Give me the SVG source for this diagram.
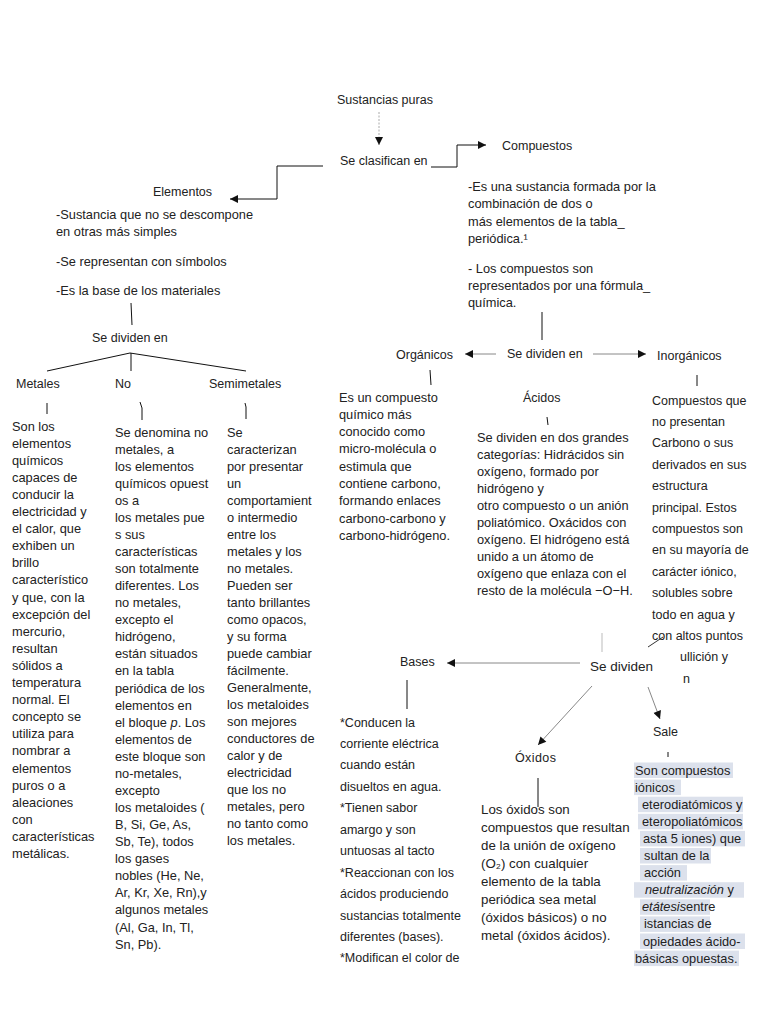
<svg xmlns="http://www.w3.org/2000/svg" width="768" height="1024" viewBox="0 0 768 1024">
<style>
.t{font-family:"Liberation Sans",Arial,sans-serif;fill:#222}
.l{font-size:12.5px}
.b{font-size:12.8px}
.h{font-size:12.5px}
.ln{stroke:#111;stroke-width:1;fill:none}
.gr{stroke:#888;stroke-width:1;fill:none}
.hl{fill:#dce1ec}
</style>
<defs>
<marker id="ah" viewBox="0 0 10 10" refX="10" refY="5" markerWidth="9" markerHeight="8" markerUnits="userSpaceOnUse" orient="auto">
<path d="M0,0 L10,5 L0,10 z" fill="#111"/>
</marker>
</defs>
<rect width="768" height="1024" fill="#fff"/>

<g id="connectors">
<line x1="379" y1="112" x2="379" y2="145" stroke="#aaa" stroke-width="1" stroke-dasharray="2,1.5" marker-end="url(#ah)"/>
<polyline class="ln" points="323,166 277,166 277,199 230,199" marker-end="url(#ah)"/>
<polyline class="ln" points="431,167 457,167 457,145 486,145" marker-end="url(#ah)"/>
<line class="ln" x1="131" y1="303" x2="132" y2="325"/>
<line class="ln" x1="130" y1="353" x2="47" y2="371"/>
<line class="ln" x1="130" y1="353" x2="246" y2="371"/>
<line class="ln" x1="131" y1="353" x2="131" y2="371"/>
<line class="ln" x1="47" y1="403" x2="47" y2="414"/>
<polyline class="ln" points="140,402 142,408 142,420"/>
<polyline class="ln" points="245,403 246,407 246,419"/>
<line class="ln" x1="542" y1="312" x2="542" y2="340"/>
<line class="gr" x1="496" y1="354" x2="465" y2="354" marker-end="url(#ah)"/>
<line class="gr" x1="593" y1="354" x2="646" y2="354" marker-end="url(#ah)"/>
<line class="ln" x1="430" y1="370" x2="431" y2="385"/>
<line class="ln" x1="697" y1="375" x2="697" y2="386"/>
<line class="ln" x1="547" y1="417" x2="548" y2="425"/>
<line x1="602" y1="633" x2="602" y2="652" stroke="#bbb" stroke-width="1"/>
<line x1="648" y1="647" x2="663" y2="637" stroke="#333" stroke-width="1"/>
<line class="gr" x1="580" y1="663" x2="447" y2="663" marker-end="url(#ah)"/>
<line class="gr" x1="592" y1="686" x2="538" y2="745" marker-end="url(#ah)"/>
<line class="gr" x1="648" y1="687" x2="660" y2="719" marker-end="url(#ah)"/>
<line class="ln" x1="407" y1="680" x2="407" y2="709"/>
<line class="ln" x1="668" y1="752" x2="668" y2="757"/>
<line class="ln" x1="538" y1="778" x2="538" y2="807"/>
</g>

<g id="sustancias"><text class="t l" x="337" y="104">Sustancias puras</text></g>
<g id="clasifican"><text class="t l" x="340" y="165">Se clasifican en</text></g>
<g id="compuestos"><text class="t l" x="502" y="149.5">Compuestos</text></g>
<g id="elementos"><text class="t l" x="153" y="196">Elementos</text></g>

<g id="elementos-desc">
<text class="t b" x="56" y="218.5">-Sustancia que no se descompone</text>
<text class="t b" x="56" y="236">en otras más simples</text>
<text class="t b" x="56" y="265.5">-Se representan con símbolos</text>
<text class="t b" x="56" y="294.5">-Es la base de los materiales</text>
</g>

<g id="compuestos-desc">
<text class="t b" x="468" y="191">-Es una sustancia formada por la</text>
<text class="t b" x="468" y="208.3">combinación de dos o</text>
<text class="t b" x="468" y="225.6">más elementos de la tabla_</text>
<text class="t b" x="468" y="242.9">periódica.¹</text>
<text class="t b" x="468" y="272.5">- Los compuestos son</text>
<text class="t b" x="468" y="289.8">representados por una fórmula_</text>
<text class="t b" x="468" y="307.1">química.</text>
</g>

<g id="se-dividen-elementos"><text class="t l" x="92" y="341.5">Se dividen en</text></g>
<g id="metales"><text class="t l" x="16" y="387.5">Metales</text></g>
<g id="no-metales"><text class="t l" x="115" y="387.5">No</text></g>
<g id="semimetales"><text class="t l" x="209" y="387.5">Semimetales</text></g>

<g id="metales-desc">
<text class="t b" x="12" y="430.5">
<tspan x="12" dy="0">Son los</tspan>
<tspan x="12" dy="17.1">elementos</tspan>
<tspan x="12" dy="17.1">químicos</tspan>
<tspan x="12" dy="17.1">capaces de</tspan>
<tspan x="12" dy="17.1">conducir la</tspan>
<tspan x="12" dy="17.1">electricidad y</tspan>
<tspan x="12" dy="17.1">el calor, que</tspan>
<tspan x="12" dy="17.1">exhiben un</tspan>
<tspan x="12" dy="17.1">brillo</tspan>
<tspan x="12" dy="17.1">característico</tspan>
<tspan x="12" dy="17.1">y que, con la</tspan>
<tspan x="12" dy="17.1">excepción del</tspan>
<tspan x="12" dy="17.1">mercurio,</tspan>
<tspan x="12" dy="17.1">resultan</tspan>
<tspan x="12" dy="17.1">sólidos a</tspan>
<tspan x="12" dy="17.1">temperatura</tspan>
<tspan x="12" dy="17.1">normal. El</tspan>
<tspan x="12" dy="17.1">concepto se</tspan>
<tspan x="12" dy="17.1">utiliza para</tspan>
<tspan x="12" dy="17.1">nombrar a</tspan>
<tspan x="12" dy="17.1">elementos</tspan>
<tspan x="12" dy="17.1">puros o a</tspan>
<tspan x="12" dy="17.1">aleaciones</tspan>
<tspan x="12" dy="17.1">con</tspan>
<tspan x="12" dy="17.1">características</tspan>
<tspan x="12" dy="17.1">metálicas.</tspan>
</text>
</g>

<g id="no-metales-desc">
<text class="t b" x="115" y="436.5">
<tspan x="115" dy="0">Se denomina no</tspan>
<tspan x="115" dy="17.07">metales, a</tspan>
<tspan x="115" dy="17.07">los elementos</tspan>
<tspan x="115" dy="17.07">químicos opuest</tspan>
<tspan x="115" dy="17.07">os a</tspan>
<tspan x="115" dy="17.07">los metales pue</tspan>
<tspan x="115" dy="17.07">s sus</tspan>
<tspan x="115" dy="17.07">características</tspan>
<tspan x="115" dy="17.07">son totalmente</tspan>
<tspan x="115" dy="17.07">diferentes. Los</tspan>
<tspan x="115" dy="17.07">no metales,</tspan>
<tspan x="115" dy="17.07">excepto el</tspan>
<tspan x="115" dy="17.07">hidrógeno,</tspan>
<tspan x="115" dy="17.07">están situados</tspan>
<tspan x="115" dy="17.07">en la tabla</tspan>
<tspan x="115" dy="17.07">periódica de los</tspan>
<tspan x="115" dy="17.07">elementos en</tspan>
<tspan x="115" dy="17.07">el bloque <tspan font-style="italic">p</tspan>. Los</tspan>
<tspan x="115" dy="17.07">elementos de</tspan>
<tspan x="115" dy="17.07">este bloque son</tspan>
<tspan x="115" dy="17.07">no-metales,</tspan>
<tspan x="115" dy="17.07">excepto</tspan>
<tspan x="115" dy="17.07">los metaloides (</tspan>
<tspan x="115" dy="17.07">B, Si, Ge, As,</tspan>
<tspan x="115" dy="17.07">Sb, Te), todos</tspan>
<tspan x="115" dy="17.07">los gases</tspan>
<tspan x="115" dy="17.07">nobles (He, Ne,</tspan>
<tspan x="115" dy="17.07">Ar, Kr, Xe, Rn),y</tspan>
<tspan x="115" dy="17.07">algunos metales</tspan>
<tspan x="115" dy="17.07">(Al, Ga, In, Tl,</tspan>
<tspan x="115" dy="17.07">Sn, Pb).</tspan>
</text>
</g>

<g id="semimetales-desc">
<text class="t b" x="227" y="436.5">
<tspan x="227" dy="0">Se</tspan>
<tspan x="227" dy="17.04">caracterizan</tspan>
<tspan x="227" dy="17.04">por presentar</tspan>
<tspan x="227" dy="17.04">un</tspan>
<tspan x="227" dy="17.04">comportamient</tspan>
<tspan x="227" dy="17.04">o intermedio</tspan>
<tspan x="227" dy="17.04">entre los</tspan>
<tspan x="227" dy="17.04">metales y los</tspan>
<tspan x="227" dy="17.04">no metales.</tspan>
<tspan x="227" dy="17.04">Pueden ser</tspan>
<tspan x="227" dy="17.04">tanto brillantes</tspan>
<tspan x="227" dy="17.04">como opacos,</tspan>
<tspan x="227" dy="17.04">y su forma</tspan>
<tspan x="227" dy="17.04">puede cambiar</tspan>
<tspan x="227" dy="17.04">fácilmente.</tspan>
<tspan x="227" dy="17.04">Generalmente,</tspan>
<tspan x="227" dy="17.04">los metaloides</tspan>
<tspan x="227" dy="17.04">son mejores</tspan>
<tspan x="227" dy="17.04">conductores de</tspan>
<tspan x="227" dy="17.04">calor y de</tspan>
<tspan x="227" dy="17.04">electricidad</tspan>
<tspan x="227" dy="17.04">que los no</tspan>
<tspan x="227" dy="17.04">metales, pero</tspan>
<tspan x="227" dy="17.04">no tanto como</tspan>
<tspan x="227" dy="17.04">los metales.</tspan>
</text>
</g>

<g id="organicos"><text class="t l" x="396" y="358.5">Orgánicos</text></g>
<g id="se-dividen-compuestos"><text class="t l" x="507" y="358">Se dividen en</text></g>
<g id="inorganicos"><text class="t l" x="657" y="359.5">Inorgánicos</text></g>

<g id="organicos-desc">
<text class="t b" x="339" y="401.5">
<tspan x="339" dy="0">Es un compuesto</tspan>
<tspan x="339" dy="17.3">químico más</tspan>
<tspan x="339" dy="17.3">conocido como</tspan>
<tspan x="339" dy="17.3">micro-molécula o</tspan>
<tspan x="339" dy="17.3">estimula que</tspan>
<tspan x="339" dy="17.3">contiene carbono,</tspan>
<tspan x="339" dy="17.3">formando enlaces</tspan>
<tspan x="339" dy="17.3">carbono-carbono y</tspan>
<tspan x="339" dy="17.3">carbono-hidrógeno.</tspan>
</text>
</g>

<g id="acidos"><text class="t l" x="523" y="401.5">Ácidos</text></g>
<g id="acidos-desc">
<text class="t b" x="477" y="441.5">
<tspan x="477" dy="0"> Se dividen en dos grandes</tspan>
<tspan x="477" dy="17.1">categorías: Hidrácidos sin</tspan>
<tspan x="477" dy="17.1">oxígeno, formado por</tspan>
<tspan x="477" dy="17.1">hidrógeno y</tspan>
<tspan x="477" dy="17.1">otro compuesto o un anión</tspan>
<tspan x="477" dy="17.1">poliatómico. Oxácidos con</tspan>
<tspan x="477" dy="17.1">oxígeno. El hidrógeno está</tspan>
<tspan x="477" dy="17.1">unido a un átomo de</tspan>
<tspan x="477" dy="17.1">oxígeno que enlaza con el</tspan>
<tspan x="477" dy="17.1">resto de la molécula −O−H.</tspan>
</text>
</g>

<g id="inorganicos-desc">
<text class="t h" x="652" y="404.5">
<tspan x="652" dy="0">Compuestos que</tspan>
<tspan x="652" dy="21.4">no presentan</tspan>
<tspan x="652" dy="21.4">Carbono o sus</tspan>
<tspan x="652" dy="21.4">derivados en sus</tspan>
<tspan x="652" dy="21.4">estructura</tspan>
<tspan x="652" dy="21.4">principal. Estos</tspan>
<tspan x="652" dy="21.4">compuestos son</tspan>
<tspan x="652" dy="21.4">en su mayoría de</tspan>
<tspan x="652" dy="21.4">carácter iónico,</tspan>
<tspan x="652" dy="21.4">solubles sobre</tspan>
<tspan x="652" dy="21.4">todo en agua y</tspan>
<tspan x="652" dy="21.4">con altos puntos</tspan>
<tspan x="680" dy="21.4">ullición y</tspan>
<tspan x="683" dy="21.4">n</tspan>
</text>
</g>

<g id="se-dividen-inorganicos"><text class="t" font-size="13.5" x="590" y="671">Se dividen</text></g>
<g id="bases"><text class="t l" x="400" y="665.5">Bases</text></g>
<g id="bases-desc">
<text class="t h" x="340" y="726.5">
<tspan x="340" dy="0">*Conducen la</tspan>
<tspan x="340" dy="21.45">corriente eléctrica</tspan>
<tspan x="340" dy="21.45">cuando están</tspan>
<tspan x="340" dy="21.45">disueltos en agua.</tspan>
<tspan x="340" dy="21.45">*Tienen sabor</tspan>
<tspan x="340" dy="21.45">amargo y son</tspan>
<tspan x="340" dy="21.45">untuosas al tacto</tspan>
<tspan x="340" dy="21.45">*Reaccionan con los</tspan>
<tspan x="340" dy="21.45">ácidos produciendo</tspan>
<tspan x="340" dy="21.45">sustancias totalmente</tspan>
<tspan x="340" dy="21.45">diferentes (bases).</tspan>
<tspan x="340" dy="21.45">*Modifican el color de</tspan>
</text>
</g>

<g id="oxidos"><text class="t l" x="515" y="761.5" letter-spacing="0.4">Óxidos</text></g>
<g id="oxidos-desc">
<text class="t" font-size="13.3" x="481" y="813.5">
<tspan x="481" dy="0">Los óxidos son</tspan>
<tspan x="481" dy="18.1">compuestos que resultan</tspan>
<tspan x="481" dy="18.1">de la unión de oxígeno</tspan>
<tspan x="481" dy="18.1">(O₂) con cualquier</tspan>
<tspan x="481" dy="18.1">elemento de la tabla</tspan>
<tspan x="481" dy="18.1">periódica sea metal</tspan>
<tspan x="481" dy="18.1">(óxidos básicos) o no</tspan>
<tspan x="481" dy="18.1">metal (óxidos ácidos).</tspan>
</text>
</g>

<g id="sales"><text class="t l" x="653" y="736">Sale</text></g>
<g id="sales-desc">
<rect class="hl" x="634" y="762.5" width="99" height="15.5"/>
<rect class="hl" x="634" y="779.6" width="47" height="15.5"/>
<rect class="hl" x="638" y="796.7" width="105" height="15.5"/>
<rect class="hl" x="638" y="813.8" width="105" height="15.5"/>
<rect class="hl" x="640" y="830.9" width="105" height="15.5"/>
<rect class="hl" x="640" y="848" width="71" height="15.5"/>
<rect class="hl" x="640" y="865.1" width="47" height="15.5"/>
<rect class="hl" x="634" y="882.2" width="110" height="15.5"/>
<rect class="hl" x="640" y="899.3" width="70" height="15.5"/>
<rect class="hl" x="640" y="916.4" width="70" height="15.5"/>
<rect class="hl" x="640" y="933.5" width="105" height="15.5"/>
<rect class="hl" x="634" y="950.6" width="105" height="15.5"/>
<text class="t b" x="635" y="774.5">Son compuestos</text>
<text class="t b" x="635" y="791.6">iónicos</text>
<text class="t b" x="642" y="808.7">eterodiatómicos y</text>
<text class="t b" x="642" y="825.8">eteropoliatómicos</text>
<text class="t b" x="643" y="842.9">asta 5 iones) que</text>
<text class="t b" x="644" y="860">sultan de la</text>
<text class="t b" x="644" y="877.1">acción</text>
<text class="t b" x="645" y="894.2"><tspan font-style="italic">neutralización</tspan> y</text>
<text class="t b" x="642" y="911.3"><tspan font-style="italic">etátesis</tspan>entre</text>
<text class="t b" x="644" y="928.4">istancias de</text>
<text class="t b" x="643" y="945.5">opiedades ácido-</text>
<text class="t b" x="635" y="962.6">básicas opuestas.</text>
</g>
</svg>
